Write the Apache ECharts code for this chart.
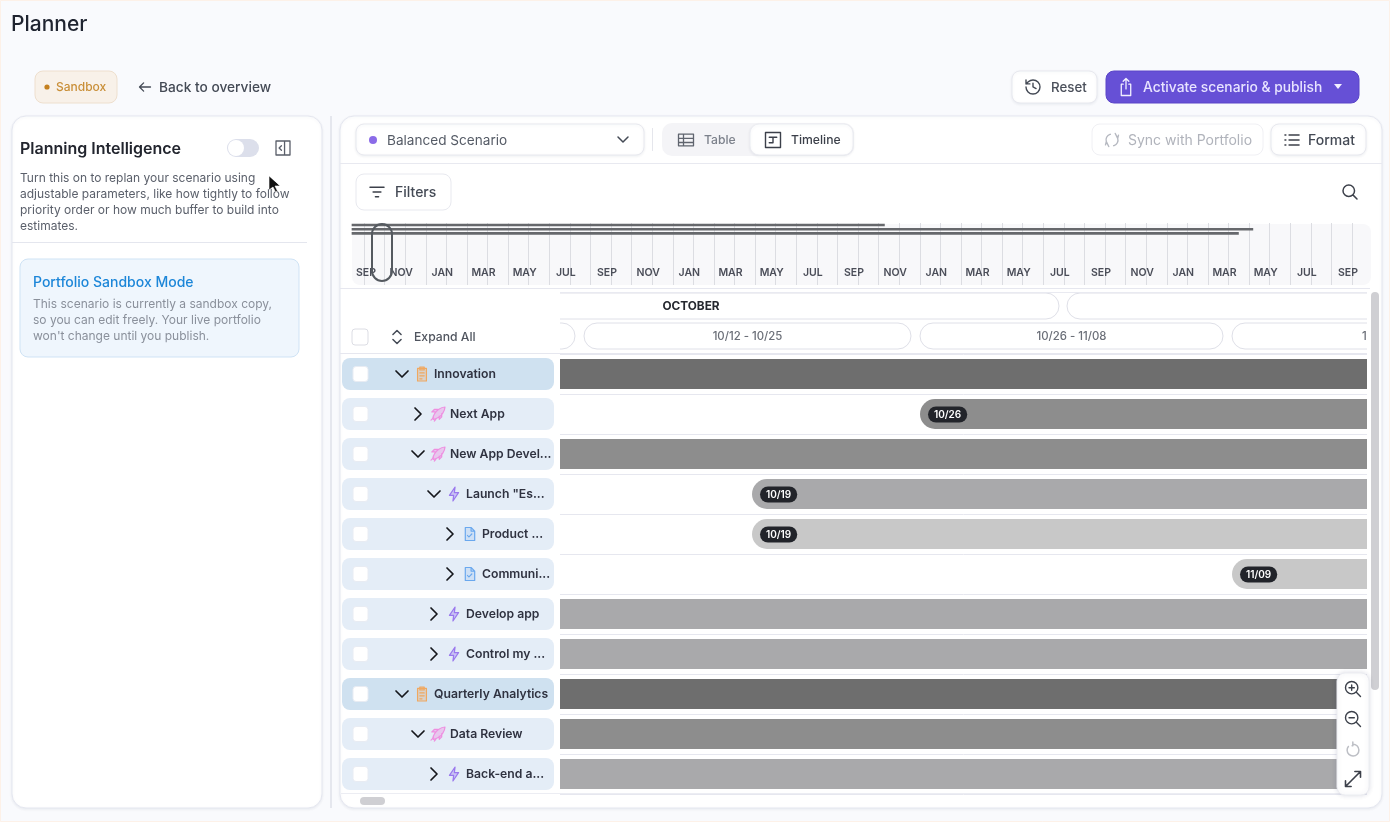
<!DOCTYPE html>
<html><head><meta charset="utf-8"><title>Planner</title>
<style>html,body{margin:0;padding:0;background:#f9fafd}#c{width:1390px;height:822px}</style>
<script src="https://cdn.jsdelivr.net/npm/echarts@6/dist/echarts.min.js"></script>
</head><body><div id="c"></div>
<script>
// ---- data ----
const rowNames = ['Innovation','Next App','New App Devel...','Launch "Es...','Product ...','Communi...','Develop app','Control my ...','Quarterly Analytics','Data Review','Back-end a...'];
const rowDepths = [0,1,1,2,3,3,2,2,0,1,2];
const rowExpanded = [1,0,1,1,0,0,0,0,1,1,0];
const rowStarts = [2,25,4,18,18,38,3,5,1,2,3];   // days after Oct 1 on the drawn scale
const rowEnds = [62,62,62,62,62,62,62,62,62,62,62];
const rowBadges = ['','10/26','','10/19','10/19','11/09','','','','',''];
const monthNames = ['OCTOBER',''];
const monthStarts = [0,31];
const monthEnds = [31,62];
const weekLabels = ['','10/12 - 10/25','10/26 - 11/08','11/09 - 11/22'];
const weekStarts = [-3,11,25,38];
const weekEnds = [11,25,38,52];
const overviewLabels = ['SEP','NOV','JAN','MAR','MAY','JUL','SEP','NOV','JAN','MAR','MAY','JUL','SEP','NOV','JAN','MAR','MAY','JUL','SEP','NOV','JAN','MAR','MAY','JUL','SEP'];
const overviewStarts = [-0.6,-0.6,-0.6];         // months after first SEP
const overviewEnds = [25.3,43.2,42.5];

// ---- styling ----
const FF = 'Inter';
const X_MIN = 10, X_MAX = 43.625;
const depthBar = ['#6e6e6e','#8d8d8d','#a9a9ab','#c8c8c8'];
const depthIcon = [
  {c:'#f0a860',f:'rgba(240,168,96,0.25)',d:'M6 4h12v17H6z M9 2h6v4H9z M9 10h6 M9 14h6 M9 18h3',s:14},
  {c:'#ee8fe0',f:'rgba(238,143,224,0.40)',d:'M5 19c1-4 3-8 7-11 3-2 6-3 8-3 0 2-1 5-3 8-3 4-7 6-11 7z M8 11H4l3-3h4 M13 16v4l3-3v-4 M3 21l3-3 M7 22l2-2',s:14},
  {c:'#9a78ee',f:'rgba(154,120,238,0.35)',d:'M13 2L5 14h6l-1 8 8-12h-6z',s:14},
  {c:'#6aa8ee',f:'rgba(106,168,238,0.18)',d:'M6 3h8l5 5v13H6z M14 3v5h5 M9 14l2 2 4-4',s:13}
];
const DOWN='M6 9l6 6 6-6', RIGHT='M9 6l6 6-6 6';
const SEARCH='M11 4a7 7 0 1 0 0 14a7 7 0 1 0 0-14 M16 16l5 5';

let shapeCount=0;
const R=(x,y,w,h,r,fill,stroke,z,extra)=>({type:'rect',shape:{x,y,width:w,height:h,r},style:Object.assign({fill,stroke:stroke||'transparent',lineWidth:1},extra||{}),z:z===undefined?1:z,silent:true});
const T=(x,y,text,font,fill,z,align)=>({type:'text',x,y:y+0.8,style:{text,font:font+' '+FF,fill,align:align||'left',verticalAlign:'middle'},z:z===undefined?2:z,silent:true});
const P=(cx,cy,size,d,stroke,lw,z,fill)=>{
  const Cls=echarts.graphic.extendPath(d,{});
  const name='chromeIcon'+(shapeCount++);
  echarts.graphic.registerShape(name,Cls);
  const b=new Cls().getBoundingRect();
  const s=size/Math.max(b.width,b.height);
  return {type:name,x:cx-(b.x+b.width/2)*s,y:cy-(b.y+b.height/2)*s,scaleX:s,scaleY:s,
    style:{fill:fill||'none',stroke:stroke||'none',lineWidth:(lw||1.4)/s,lineCap:'round',lineJoin:'round'},z:z===undefined?2:z,silent:true};
};
const C=(cx,cy,r,fill,z)=>({type:'circle',shape:{cx,cy,r},style:{fill},z:z===undefined?2:z,silent:true});
const shadow={shadowBlur:3,shadowColor:'rgba(40,50,90,0.07)',shadowOffsetY:1};

const chrome=[
  // page
  R(0.5,0.5,1389,821,0,'transparent','#fdf1e8',-20),
  T(11,24,'Planner','500 21px','#1f2430'),
  R(35,71,82,32,8,'#f8f1e9','#eedfce',1),
  C(47,87,2.6,'#c4801f'),
  T(56,87,'Sandbox','500 12px','#c98f38'),
  P(145,87,11,'M20 12H4 M10 6l-6 6 6 6','#444a55',1.3),
  T(159,87,'Back to overview','500 13.7px','#444a55'),
  R(1012,71,85,32,8,'#fff','#e8e9ef',1,shadow),
  P(1033,87,14,'M3 12a9 9 0 1 0 3-6.7L3 8 M3 3v5h5 M12 7v5l4 2','#444a55',1.4),
  T(1051,87,'Reset','500 13.3px','#4a4f5a'),
  R(1106,71,253,32,8,'#6650d6','#5a45c8',1),
  P(1126,87,17,'M12 3v11 M9 6l3-3 3 3 M9 9H7v12h10V9h-2','#f2f0ff',1.3),
  T(1143,87,'Activate scenario & publish','500 13.8px','#e8e4ff'),
  P(1338,86.5,8,'M0 0h8l-4 5z',null,1,2,'#f2f0ff'),
  // left panel
  R(12,116,310,692,14,'#fff','#e5e7f0',-10,shadow),
  T(20,148,'Planning Intelligence','600 16px','#22252e'),
  R(227,139,32,18,9,'#dcdfeb',null,1),
  C(236,148,8,'#fff'),
  P(283,148,14,'M3 3h18v18H3z M14 3v18 M10 9l-3 3 3 3','#5a5f6a',1.3),
  T(20,178,'Turn this on to replan your scenario using','400 12px','#5b606b'),
  T(20,194,'adjustable parameters, like how tightly to follow','400 12px','#5b606b'),
  T(20,210,'priority order or how much buffer to build into','400 12px','#5b606b'),
  T(20,226,'estimates.','400 12px','#5b606b'),
  R(12,242,295,1,0,'#e4e6ee',null,1),
  R(20,259,279,98,8,'#eff6fd','#cfe3f5',1),
  T(33,282,'Portfolio Sandbox Mode','500 14px','#1c86d8'),
  T(33,304,'This scenario is currently a sandbox copy,','400 12px','#8a909b'),
  T(33,320,'so you can edit freely. Your live portfolio','400 12px','#8a909b'),
  T(33,336,"won't change until you publish.",'400 12px','#8a909b'),
  P(274.5,184,16,'M0 0v14l4-3 2.5 5 2-1-2.5-5h5z','#fff',0.6,30,'#111'),
  R(330,116,2,692,0,'#e5e7ee',null,-10),
  // main panel
  R(340,116,1042,692,14,'#fff','#e5e7f0',-10,shadow),
  R(340,163,1042,1,0,'#e8e9f0',null,1),
  R(356,124,288,31,8,'#fff','#e8e9ef',1,shadow),
  C(373,140,4,'#8b6be8'),
  T(387,140,'Balanced Scenario','400 13.6px','#555b66'),
  P(623,139.5,10,DOWN,'#444a55',1.5),
  R(652,128,1,23,0,'#e5e6ec',null,1),
  R(662,123,192,33,10,'#f4f4f7',null,1),
  R(750,124,103,31,9,'#fff','#ecedf2',1,shadow),
  P(686,140,15,'M3 5h18v14H3z M3 10h18 M3 15h18 M9 5v14','#5f646e',1.3),
  T(704,140,'Table','500 12.2px','#7c818b'),
  P(773,140,15,'M4 4h16v16H4z M8 9h8 M8 15h4 M12 9v6','#3c404a',1.4),
  T(791,140,'Timeline','500 12.2px','#3c404a'),
  R(1092,124,171,31,8,'#fff','#f0f0f4',1),
  P(1112,140,13,'M5 14a7 7 0 0 1 5-9 M8 20l-3-6-1 4 M19 10a7 7 0 0 1-5 9 M16 4l3 6 1-4','#b6b9c1',1.4),
  T(1128,140,'Sync with Portfolio','400 14px','#b0b3bb'),
  R(1271,124,95,31,8,'#fff','#e8e9ef',1,shadow),
  P(1292,140,14,'M9 6h12 M9 12h12 M9 18h12 M4 6h1 M4 12h1 M4 18h1','#3c404a',1.6),
  T(1308,140,'Format','500 14px','#444a55'),
  R(356,174,95,36,8,'#fff','#e8e9ef',1),
  P(377,192,14,'M3 6h18 M7 12h10 M10 18h4','#3c404a',1.5),
  T(395,192,'Filters','500 14px','#444a55'),
  P(1350,192,14,SEARCH,'#3c404a',1.5),
  // overview strip
  R(352,224,1019,61,8,'#f8f8fa',null,-5),
  R(372,224,20,57,10,'transparent','#555a60',20,{lineWidth:2}),
  R(340,288,1030,1,0,'#e6e7ef',null,1),
  // header overlay
  R(341,289,219,64,0,'#fff',null,50),
  R(560,292,807,1,0,'#e9eaf1',null,51),
  R(352,329,16,16,3,'#fff','#dcdde4',60),
  P(397,337,13,'M7 9l5-5 5 5 M7 15l5 5 5-5','#444a55',1.5,60),
  T(414,337,'Expand All','500 12.2px','#50555f',60),
  R(340,353,1027,1,0,'#e6e7ef',null,60),
  // scrollbars
  R(1371,292,8,398,4,'#cfcfd3',null,60),
  R(360,797,25,8,4,'#cfcfd3',null,60),
  R(341,793,1026,1,0,'#ecedf3',null,60),
  // zoom tools
  R(1337,673,32,122,8,'#fff','#ecedf2',70,{shadowBlur:5,shadowColor:'rgba(40,50,90,0.14)'}),
  P(1353,689,15,SEARCH+' M8 11h6 M11 8v6','#3c404a',1.4,71),
  P(1353,719,15,SEARCH+' M8 11h6','#3c404a',1.4,71),
  P(1353,749,14,'M12 4a8 8 0 1 1-6 3 M12 1v5h-1','#bdbfc5',1.5,71),
  P(1353,779,15,'M14 4h6v6 M20 4L4 20 M4 14v6h6','#3c404a',1.6,71)
];

function rowRender(params,api){
  const i=params.dataIndex, d=rowDepths[i], y=api.coord([X_MIN,i])[1];
  const ic=depthIcon[d], ind=d*16;
  const path=(cx,cy,s,pd,st,lw,f)=>({type:'path',shape:{pathData:pd,x:cx-s/2,y:cy-s/2,width:s,height:s,layout:'center'},style:{fill:f||'none',stroke:st,lineWidth:lw,lineCap:'round',lineJoin:'round'}});
  return {type:'group',children:[
    {type:'rect',shape:{x:342,y:y-16,width:212,height:32,r:8},style:{fill:d===0?'#cfe1f0':'#e4edf7'}},
    {type:'rect',shape:{x:353,y:y-7.5,width:15,height:15,r:3},style:{fill:'#fff',stroke:'#e8ecf3'}},
    path(402+ind,y,12,rowExpanded[i]?DOWN:RIGHT,'#15171c',1.7),
    path(422+ind,y,ic.s,ic.d,ic.c,1.2,ic.f),
    {type:'text',style:{x:434+ind,y:y+0.8,text:rowNames[i],font:'600 12.2px '+FF,fill:'#2f3240',verticalAlign:'middle'}}
  ]};
}
function pillRender(starts,ends,labels,insetL,insetR){
  return (params,api)=>{
    const i=params.dataIndex, isMonth=api.value(2)===0;
    const a=api.coord([starts[i],api.value(2)]), b=api.coord([ends[i],api.value(2)]);
    const x0=a[0]+insetL, x1=b[0]-insetR;
    return {type:'group',
      clipPath:{type:'rect',shape:{x:560,y:289,width:807,height:64}},
      children:[
      {type:'rect',shape:{x:x0,y:a[1]-13,width:x1-x0,height:26,r:13},style:{fill:'#fff',stroke:'#dfe0e8',lineWidth:1}},
      {type:'text',style:{x:(x0+x1)/2,y:a[1]+0.8,text:labels[i],font:(isMonth?'700 11.8px ':'500 11.4px ')+FF,fill:isMonth?'#25282f':'#6b6f78',align:'center',verticalAlign:'middle'}}
    ]};
  };
}
const ovLabel={fontFamily:FF,fontSize:10.5,fontWeight:600,color:'#4a4d58'};

const option={
  backgroundColor:'#f9fafd',
  animation:false,
  graphic:{elements:chrome},
  grid:[
    {left:560,top:354,width:807,height:440,containLabel:false},
    {left:560,top:291,width:807,height:60,containLabel:false},
    {left:364,top:223,width:988,height:62,containLabel:false}
  ],
  xAxis:[
    {gridIndex:0,type:'value',min:X_MIN,max:X_MAX,show:false},
    {gridIndex:1,type:'value',min:X_MIN,max:X_MAX,show:false},
    {gridIndex:2,type:'value',min:0,max:48,interval:1,
      axisLine:{show:false},axisTick:{show:false},
      splitLine:{show:true,lineStyle:{color:'#dcdde2',width:1}},
      axisLabel:{inside:true,margin:7,interval:0,showMinLabel:true,showMaxLabel:true,
        formatter:v=>v%2?'':(v===0?'{a|'+overviewLabels[0]+'}':'{b|'+overviewLabels[v/2]+'}'),
        rich:{a:Object.assign({padding:[0,0,0,4]},ovLabel),b:Object.assign({padding:[0,8,0,0]},ovLabel)}}}
  ],
  yAxis:[
    {gridIndex:0,type:'category',inverse:true,data:rowNames,axisLine:{show:false},axisTick:{show:false},axisLabel:{show:false},
      splitLine:{show:true,lineStyle:{color:'#e6e7ef',width:1}}},
    {gridIndex:1,type:'category',inverse:true,data:['month','week'],show:false},
    {gridIndex:2,type:'value',inverse:true,min:0,max:15,show:false}
  ],
  series:[
    {type:'bar',name:'offset',stack:'g',xAxisIndex:0,yAxisIndex:0,barWidth:30,data:rowStarts,itemStyle:{color:'transparent'},silent:true,clip:true},
    {type:'bar',name:'span',stack:'g',xAxisIndex:0,yAxisIndex:0,barWidth:30,clip:true,silent:true,
      data:rowStarts.map((s,i)=>({value:rowEnds[i]-s,
        itemStyle:{color:depthBar[rowDepths[i]],borderRadius:s>X_MIN?[15,0,0,15]:0},
        label:{show:!!rowBadges[i],formatter:rowBadges[i]}})),
      label:{position:'insideLeft',distance:8,offset:[0,0.5],color:'#fff',fontFamily:FF,fontSize:10,fontWeight:600,backgroundColor:'#22242a',borderRadius:8,padding:[3,6]}},
    {type:'custom',name:'rows',xAxisIndex:0,yAxisIndex:0,z:10,silent:true,renderItem:rowRender,encode:{x:0,y:1},
      data:rowNames.map((_,i)=>[X_MIN,i])},
    {type:'custom',name:'months',xAxisIndex:1,yAxisIndex:1,silent:true,z:5,renderItem:pillRender(monthStarts,monthEnds,monthNames,3,5),encode:{x:0,y:2},
      data:monthStarts.map((s,i)=>[s,monthEnds[i],0])},
    {type:'custom',name:'weeks',xAxisIndex:1,yAxisIndex:1,silent:true,z:5,renderItem:pillRender(weekStarts,weekEnds,weekLabels,0,9),encode:{x:0,y:2},
      data:weekStarts.map((s,i)=>[s,weekEnds[i],1])},
    {type:'custom',name:'overview',xAxisIndex:2,yAxisIndex:2,silent:true,z:6,encode:{x:[0,1],y:2},
      data:overviewStarts.map((s,i)=>[s,overviewEnds[i],i]),
      renderItem:(params,api)=>{
        const a=api.coord([api.value(0),api.value(2)+0.5]),b=api.coord([api.value(1),api.value(2)+0.5]);
        return {type:'rect',shape:{x:a[0],y:a[1]-1.3,width:b[0]-a[0],height:2.6},style:{fill:'#66686c'}};
      }}
  ]
};
const chart=echarts.init(document.getElementById('c'),null,{renderer:'canvas',width:1390,height:822});
chart.setOption(option);
</script></body></html>
